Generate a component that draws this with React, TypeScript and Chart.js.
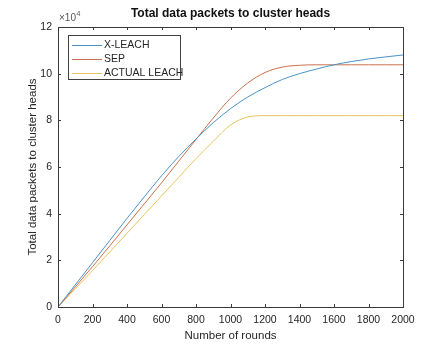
import React, { useEffect, useRef } from "react";
import { Chart, registerables } from "chart.js";

Chart.register(...registerables);

const rounds = [0, 100, 200, 300, 400, 500, 600, 700, 800, 900, 1000, 1100, 1200, 1300, 1400, 1500, 1600, 1700, 1800, 1900, 2000];
const xLeach = [0, 0.95, 1.9, 2.85, 3.8, 4.72, 5.62, 6.45, 7.2, 7.9, 8.5, 9.0, 9.4, 9.75, 10.0, 10.2, 10.38, 10.52, 10.63, 10.72, 10.8];
const sep = [0, 0.86, 1.73, 2.62, 3.52, 4.42, 5.32, 6.25, 7.18, 8.1, 8.95, 9.6, 10.05, 10.28, 10.36, 10.38, 10.38, 10.38, 10.38, 10.38, 10.38];
const actualLeach = [0, 0.78, 1.56, 2.36, 3.16, 3.96, 4.76, 5.56, 6.36, 7.1, 7.8, 8.14, 8.2, 8.2, 8.2, 8.2, 8.2, 8.2, 8.2, 8.2, 8.2];

const seriesNames = ["X-LEACH", "SEP", "ACTUAL LEACH"];
const seriesColors = ["#4a93c6", "#c9714a", "#e8c45e"];
const xTicks = [0, 200, 400, 600, 800, 1000, 1200, 1400, 1600, 1800, 2000];
const yTicks = [0, 2, 4, 6, 8, 10, 12];
const titleText = "Total data packets to cluster heads";
const xTitle = "Number of rounds";
const yTitle = "Total data packets to cluster heads";

const FONT = "'Liberation Sans', Arial, Helvetica, sans-serif";
const AXIS_COLOR = "#3a3a3a";
const TEXT_COLOR = "#262626";

const framePlugin = {
  id: "matlabFrame",
  afterDraw(chart: any) {
    const ctx = chart.ctx;
    const { left, right, top, bottom } = chart.chartArea;
    const xs = chart.scales.x;
    const ys = chart.scales.y;
    ctx.save();
    ctx.strokeStyle = AXIS_COLOR;
    ctx.lineWidth = 1;
    ctx.strokeRect(Math.round(left) + 0.5, Math.round(top) + 0.5, Math.round(right - left), Math.round(bottom - top));
    const tl = 3;
    ctx.beginPath();
    xTicks.forEach((v) => {
      const px = Math.round(xs.getPixelForValue(v)) + 0.5;
      ctx.moveTo(px, bottom);
      ctx.lineTo(px, bottom - tl);
      ctx.moveTo(px, top);
      ctx.lineTo(px, top + tl);
    });
    yTicks.forEach((v) => {
      const py = Math.round(ys.getPixelForValue(v)) + 0.5;
      ctx.moveTo(left, py);
      ctx.lineTo(left + tl, py);
      ctx.moveTo(right, py);
      ctx.lineTo(right - tl, py);
    });
    ctx.stroke();

    ctx.fillStyle = "#111";
    ctx.font = `bold 12px ${FONT}`;
    ctx.textAlign = "center";
    ctx.textBaseline = "middle";
    ctx.fillText(titleText, (left + right) / 2, 14);

    ctx.fillStyle = "#555";
    ctx.font = `10px ${FONT}`;
    ctx.textAlign = "left";
    ctx.textBaseline = "alphabetic";
    ctx.fillText("\u00d710", left + 1, 21);
    const w = ctx.measureText("\u00d710").width;
    ctx.font = `7px ${FONT}`;
    ctx.fillText("4", left + 1 + w + 0.5, 16);

    ctx.fillStyle = TEXT_COLOR;
    ctx.font = `11.5px ${FONT}`;
    ctx.textAlign = "center";
    ctx.textBaseline = "middle";
    ctx.fillText(xTitle, (left + right) / 2, 336);

    ctx.save();
    ctx.translate(33, (top + bottom) / 2);
    ctx.rotate(-Math.PI / 2);
    ctx.fillText(yTitle, 0, 0);
    ctx.restore();

    const bx = 68.5, by = 35.5, bw = 112, bh = 44;
    ctx.fillStyle = "#fff";
    ctx.fillRect(bx, by, bw, bh);
    ctx.strokeStyle = "#404040";
    ctx.strokeRect(bx, by, bw, bh);
    ctx.font = `10.5px ${FONT}`;
    ctx.textAlign = "left";
    ctx.textBaseline = "middle";
    seriesNames.forEach((name, i) => {
      const yy = by + 9 + i * 14;
      ctx.strokeStyle = seriesColors[i];
      ctx.lineWidth = 1;
      ctx.beginPath();
      ctx.moveTo(72, Math.round(yy) + 0.5);
      ctx.lineTo(102, Math.round(yy) + 0.5);
      ctx.stroke();
      ctx.fillStyle = TEXT_COLOR;
      ctx.fillText(name, 104, yy + 0.5);
    });
    ctx.restore();
  },
};

export default function App() {
  const ref = useRef<HTMLCanvasElement | null>(null);
  useEffect(() => {
    const prevMargin = document.body.style.margin;
    document.body.style.margin = "0";
    const series = [xLeach, sep, actualLeach];
    const chart = new Chart(ref.current as HTMLCanvasElement, {
      type: "line",
      data: {
        datasets: series.map((vals, i) => ({
          label: seriesNames[i],
          data: rounds.map((r, j) => ({ x: r, y: vals[j] })),
          borderColor: seriesColors[i],
          borderWidth: 1,
          pointRadius: 0,
          cubicInterpolationMode: "monotone" as const,
          fill: false,
        })),
      },
      options: {
        animation: false,
        responsive: false,
        maintainAspectRatio: false,
        events: [],
        layout: { padding: { left: 0, top: 27, right: 42, bottom: 0 } },
        plugins: { legend: { display: false }, title: { display: false }, tooltip: { enabled: false } },
        scales: {
          x: {
            type: "linear",
            min: 0,
            max: 2000,
            afterBuildTicks: (s: any) => {
              s.ticks = xTicks.map((v) => ({ value: v }));
            },
            afterFit: (s: any) => {
              s.height = 38;
            },
            grid: { display: false, drawTicks: false },
            border: { display: false },
            ticks: {
              padding: 7,
              color: TEXT_COLOR,
              font: { family: FONT, size: 10.5 },
              maxRotation: 0,
              autoSkip: false,
              callback: (v: any) => String(v),
            },
          },
          y: {
            type: "linear",
            min: 0,
            max: 12,
            afterBuildTicks: (s: any) => {
              s.ticks = yTicks.map((v) => ({ value: v }));
            },
            afterFit: (s: any) => {
              s.width = 58;
            },
            grid: { display: false, drawTicks: false },
            border: { display: false },
            ticks: {
              padding: 6,
              color: TEXT_COLOR,
              font: { family: FONT, size: 10.5 },
              autoSkip: false,
              callback: (v: any) => String(v),
            },
          },
        },
      },
      plugins: [framePlugin],
    });
    return () => {
      chart.destroy();
      document.body.style.margin = prevMargin;
    };
  }, []);
  return (
    <div style={{ position: "absolute", left: 0, top: 0, width: 445, height: 345, background: "#fff" }}>
      <canvas ref={ref} width={445} height={345} style={{ display: "block", width: 445, height: 345 }} />
    </div>
  );
}
